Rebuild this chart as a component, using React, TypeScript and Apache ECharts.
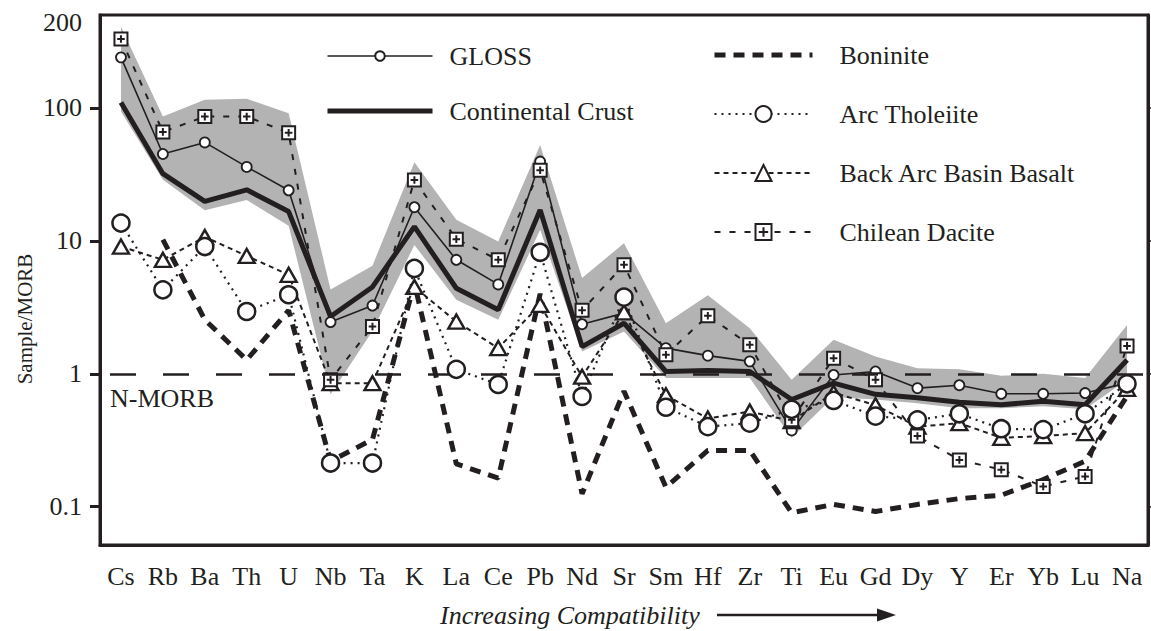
import React, { useEffect, useRef } from "react";
import * as echarts from "echarts";

const categories = ["Cs","Rb","Ba","Th","U","Nb","Ta","K","La","Ce","Pb","Nd","Sr","Sm","Hf","Zr","Ti","Eu","Gd","Dy","Y","Er","Yb","Lu","Na"];

const gloss = [240,45,55,36,24,2.45,3.26,17.9,7.2,4.7,39.5,2.36,2.86,1.56,1.37,1.24,0.375,0.98,1.04,0.78,0.82,0.707,0.707,0.716,0.85];
const crust = [110,32,19.8,24.2,16.6,2.7,4.5,12.8,4.4,3.03,17.1,1.6,2.4,1.04,1.06,1.04,0.64,0.85,0.7,0.66,0.61,0.585,0.62,0.585,1.27];
const boninite = [null,10.2,2.55,1.27,3.0,0.22,0.32,4.8,0.21,0.164,4.0,0.125,0.74,0.14,0.265,0.265,0.09,0.104,0.092,0.104,0.115,0.122,0.16,0.22,0.68];
const arcTholeiite = [13.6,4.28,9.06,2.94,3.93,0.213,0.213,6.2,1.08,0.83,8.2,0.675,3.77,0.56,0.4,0.425,0.54,0.63,0.48,0.45,0.5,0.386,0.38,0.5,0.84];
const backArc = [9.06,7.2,10.7,7.7,5.55,0.85,0.85,4.5,2.47,1.56,3.3,0.95,2.9,0.69,0.46,0.52,0.44,0.72,0.58,0.4,0.425,0.33,0.34,0.358,0.77];
const chileanDacite = [330,66,86,86,65,0.9,2.27,28.7,10.3,7.2,34,3.0,6.6,1.39,2.73,1.65,0.45,1.31,0.9,0.34,0.225,0.19,0.142,0.169,1.62];
const bandLow = [94,28.8,17,20.3,13,0.7,2.1,9.3,3.6,2.55,12.1,1.47,2.08,0.93,0.93,0.93,0.33,0.67,0.64,0.6,0.55,0.55,0.57,0.54,0.9];
const bandHigh = [408,86,115,117,91,4.3,6.5,39,14.4,9.9,52.7,5.25,9.6,2.4,3.9,2.2,0.9,1.8,1.35,1.1,1.08,0.965,1.0,0.93,2.33];
const yTicks = [0.1, 1, 10, 100];

const INK = "#231f20";
const FONT = "Liberation Serif";
const FS = 26;

export default function App() {
  const ref = useRef<HTMLDivElement>(null);
  useEffect(() => {
    if (!ref.current) return;
    const chart = echarts.init(ref.current, null, { renderer: "svg" });
    const bandData = categories.map((_, i) => [i, bandLow[i], bandHigh[i]]);
    const lineSeries = (name: string, data: any[], o: any) => ({
      name,
      type: "line",
      data,
      z: 3,
      connectNulls: false,
      ...o,
    });
    const txt = (text: string, x: number, y: number, extra: any = {}, styleExtra: any = {}) => ({
      type: "text", x, y, z: 10, ...extra,
      style: { text, fontFamily: FONT, fontSize: FS, fill: INK, align: "left", verticalAlign: "middle", ...styleExtra },
    });
    const option: any = {
      animation: false,
      backgroundColor: "#fff",
      textStyle: { fontFamily: FONT, color: INK },
      grid: { left: 100, right: 3, top: 15, bottom: 86, show: true, borderColor: INK, borderWidth: 3 },
      legend: [
        {
          orient: "vertical", left: 325, top: 43, padding: 0, itemWidth: 105, itemHeight: 12, itemGap: 29,
          selectedMode: false,
          lineStyle: { width: "inherit" },
          textStyle: { fontSize: FS, fontFamily: FONT, color: INK, padding: [0, 0, 0, 12] },
          data: ["GLOSS", "Continental Crust"],
        },
        {
          orient: "vertical", left: 712, top: 42, padding: 0, itemWidth: 98, itemHeight: 20, itemGap: 33,
          selectedMode: false,
          lineStyle: { width: "inherit" },
          textStyle: { fontSize: FS, fontFamily: FONT, color: INK, padding: [0, 0, 0, 22] },
          data: ["Boninite", "Arc Tholeiite", "Back Arc Basin Basalt", "Chilean Dacite"],
        },
      ],
      xAxis: {
        type: "category",
        data: categories,
        boundaryGap: true,
        axisLine: { show: true, lineStyle: { color: INK, width: 3 } },
        axisTick: { alignWithLabel: true, length: 11, lineStyle: { color: INK, width: 2.5 } },
        axisLabel: { interval: 0, fontSize: FS, fontFamily: FONT, color: INK, margin: 18 },
        splitLine: { show: false },
      },
      yAxis: [
        {
          type: "log", logBase: 10, min: 0.0515, max: 500, position: "left",
          axisLine: { show: true, lineStyle: { color: INK, width: 3 } },
          axisTick: { show: true, length: 10, lineStyle: { color: INK, width: 3 }, customValues: yTicks },
          axisLabel: { fontSize: FS, fontFamily: FONT, color: INK, margin: 18, customValues: yTicks, formatter: (v: number) => String(v) },
          splitLine: { show: false },
          minorTick: { show: false },
        },
        {
          type: "log", logBase: 10, min: 0.0515, max: 500, position: "right",
          axisLine: { show: true, lineStyle: { color: INK, width: 3 } },
          axisTick: { show: true, length: 4, lineStyle: { color: INK, width: 1.5 }, customValues: yTicks },
          axisLabel: { show: false },
          splitLine: { show: false },
        },
      ],
      series: [
        {
          type: "custom",
          name: "band",
          z: 1,
          silent: true,
          data: bandData,
          encode: { x: 0, y: [1, 2] },
          renderItem: (params: any, api: any) => {
            if (params.dataIndex !== 0) return null;
            const top = bandData.map((d) => api.coord([d[0], d[2]]));
            const bot = bandData.map((d) => api.coord([d[0], d[1]])).reverse();
            return { type: "polygon", shape: { points: top.concat(bot) }, style: { fill: "#b3b3b3" } };
          },
        },
        lineSeries("Continental Crust", crust, {
          symbol: "none",
          itemStyle: { color: "transparent" },
          lineStyle: { color: INK, width: 5 },
          z: 3,
          markLine: {
            silent: true, symbol: "none", label: { show: false },
            lineStyle: { color: INK, width: 2.5, type: [26, 27], dashOffset: 43 },
            data: [{ yAxis: 1 }],
          },
        }),
        lineSeries("GLOSS", gloss, {
          symbol: "circle", symbolSize: 10,
          itemStyle: { color: "#fff", borderColor: INK, borderWidth: 1.8 },
          lineStyle: { color: INK, width: 1.6 },
          z: 4,
        }),
        lineSeries("Boninite", boninite, {
          symbol: "none",
          itemStyle: { color: "transparent" },
          lineStyle: { color: INK, width: 5, type: [11, 8] },
          z: 3,
        }),
        lineSeries("Back Arc Basin Basalt", backArc, {
          symbol: "triangle", symbolSize: [16, 14],
          itemStyle: { color: "#fff", borderColor: INK, borderWidth: 2.4 },
          lineStyle: { color: INK, width: 2, type: [5, 4] },
          z: 4,
        }),
        lineSeries("Arc Tholeiite", arcTholeiite, {
          symbol: "circle", symbolSize: 17,
          itemStyle: { color: "#fff", borderColor: INK, borderWidth: 2.5 },
          lineStyle: { color: INK, width: 2.2, type: [2, 5] },
          z: 5,
        }),
        lineSeries("Chilean Dacite", chileanDacite, {
          symbol: "path://M0,0H12V12H0ZM6,2.5V9.5M2.5,6H9.5", symbolSize: 13,
          itemStyle: { color: "#fff", borderColor: INK, borderWidth: 2 },
          lineStyle: { color: INK, width: 2, type: [6, 9] },
          z: 4,
        }),
      ],
      graphic: [
        txt("200", 82, 22, {}, { align: "right" }),
        txt("N-MORB", 110, 398),
        txt("Sample/MORB", 25, 319, { rotation: Math.PI / 2 }, { fontSize: 21, align: "center" }),
        txt("Increasing Compatibility", 440, 615, {}, { fontStyle: "italic" }),
        { type: "line", shape: { x1: 717, y1: 615, x2: 882, y2: 615 }, style: { stroke: INK, lineWidth: 2.5 } },
        { type: "polygon", shape: { points: [[877, 608.5], [896, 615], [877, 621.5]] }, style: { fill: INK } },
      ],
    };
    chart.setOption(option);
    return () => chart.dispose();
  }, []);
  return <div ref={ref} style={{ position: "fixed", left: 0, top: 0, width: 1151, height: 631 }} />;
}
